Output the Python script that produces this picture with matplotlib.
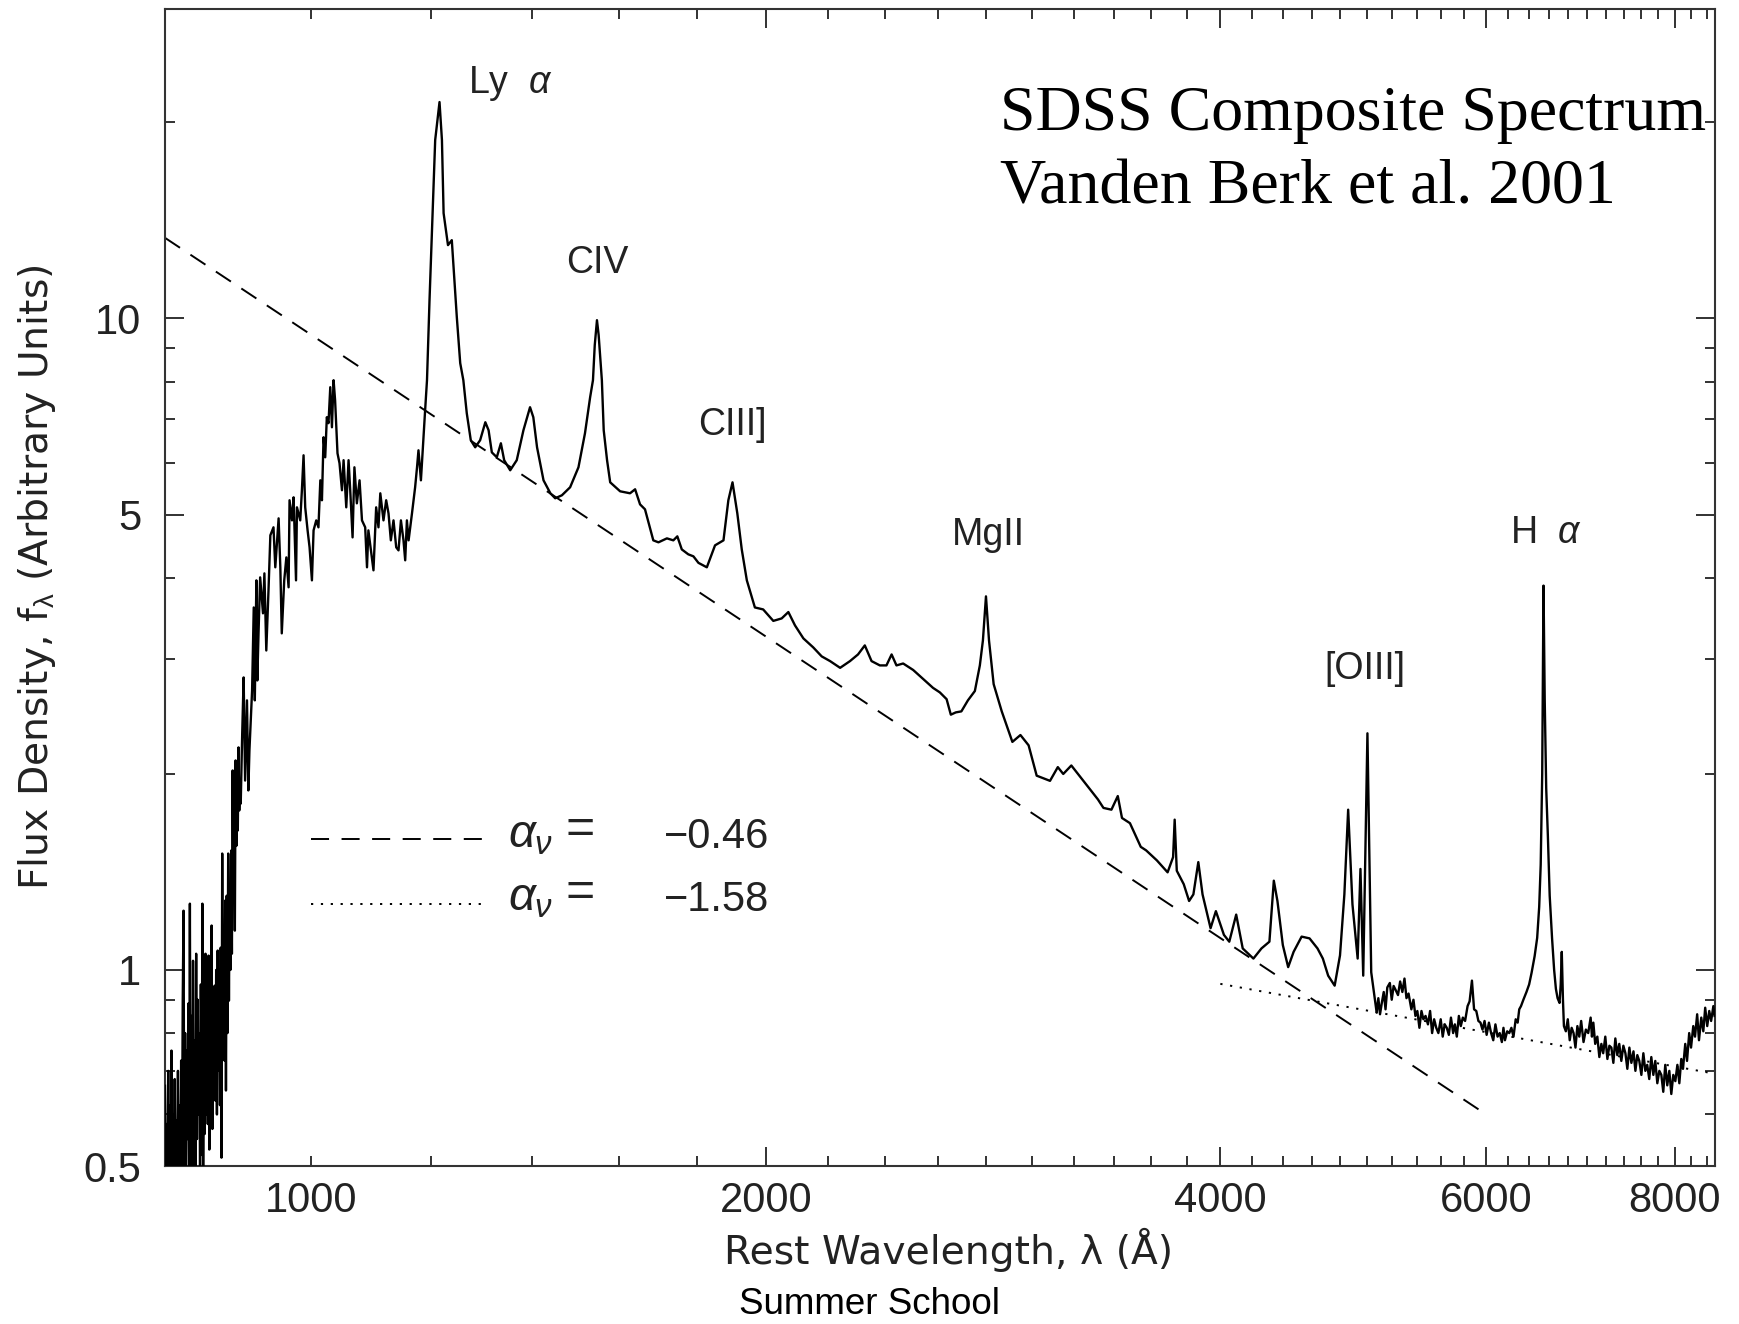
import numpy as np
import matplotlib
matplotlib.use("Agg")
import matplotlib.pyplot as plt
from matplotlib.ticker import NullFormatter, FuncFormatter

plt.rcParams["font.family"] = ["Liberation Sans", "DejaVu Sans"]
plt.rcParams["mathtext.fontset"] = "custom"
plt.rcParams["mathtext.rm"] = "Liberation Sans"
plt.rcParams["mathtext.it"] = "Liberation Sans:italic"
plt.rcParams["lines.scale_dashes"] = False

# ---------------------------------------------------------------------------
# Data (rest wavelength in A, f_lambda)
# ---------------------------------------------------------------------------
# Lyman forest, noisy part below 900 A
lyb_wave = [
    800, 801, 802, 803, 804, 805, 806, 807, 808, 809,
    810, 811, 812, 813, 814, 815, 816, 817, 818, 819,
    820, 821, 822, 823, 824, 825, 826, 827, 828, 829,
    830, 831, 832, 833, 834, 835, 836, 837, 838, 839,
    840, 841, 842, 843, 844, 845, 846, 847, 848, 849,
    850, 851, 852, 853, 854, 855, 856, 857, 858, 859,
    860, 861, 862, 863, 864, 865, 866, 867, 868, 869,
    870, 871, 872, 873, 874, 875, 876, 877, 878, 879,
    880, 881, 882, 883, 884, 885, 886, 887, 888, 889,
    890, 891, 892, 893, 894, 895, 896, 897, 898, 899,
    900,
]
lyb_flux = [
    0.664, 0.46, 0.58, 0.46, 0.70, 0.46, 0.62, 0.47, 0.752, 0.46,
    0.60, 0.47, 0.68, 0.46, 0.587, 0.48, 0.70, 0.47, 0.62, 0.46,
    0.726, 0.50, 0.90, 1.233, 0.47, 0.80, 0.46, 0.752, 0.55, 0.888,
    0.46, 1.264, 0.49, 0.85, 0.47, 1.033, 0.50, 0.78, 0.47, 1.059,
    0.55, 0.90, 0.60, 0.798, 0.48, 0.95, 0.52, 1.264, 0.50, 0.88,
    0.56, 1.059, 0.60, 0.92, 0.58, 1.052, 0.53, 0.98, 0.62, 1.170,
    0.57, 0.90, 0.66, 0.946, 0.63, 1.00, 0.60, 1.071, 0.70, 1.00,
    0.62, 1.082, 0.515, 1.509, 0.80, 1.15, 0.726, 1.278, 0.653, 1.30,
    0.80, 1.509, 0.897, 1.35, 1.00, 1.525, 1.059, 2.024, 1.30, 1.70,
    1.149, 2.097, 1.55, 1.90, 1.637, 2.196, 1.757, 1.95, 1.80, 2.024,
    2.30,
]

# Lyman forest above 900 A up to the blue side of Ly alpha
forest_wave = [
    902, 904, 906.6, 908.5, 910, 913.7, 916, 917.5, 919.7,
    921, 922.7, 925, 929, 931, 933.7, 937, 939.5, 944, 946.6,
    951.4, 953.9, 956, 959.6, 962.7, 966, 967.4, 971, 973.4, 977,
    978.4, 983.3, 985.8, 988.3, 990.8, 994.4, 997.4, 1001, 1003.5, 1007.6,
    1011, 1013.9, 1016.4, 1018.9, 1021.5, 1024, 1026.6, 1029.4, 1032, 1034.6,
    1037, 1040.8, 1044, 1047.9, 1050.5, 1054.8, 1058.5, 1061.2, 1065, 1068,
    1072, 1076.4, 1080.4, 1085.7, 1088.7, 1091, 1095.2, 1099.5, 1104, 1107.9,
    1111, 1116.4, 1121, 1125, 1129, 1133.6, 1138.3, 1142.3, 1146.5, 1151,
    1154, 1157, 1160, 1166, 1171.6, 1175, 1177.6, 1182, 1185.5, 1189.6,
    1193,
]
forest_flux = [
    2.812, 1.953, 2.593, 1.886, 2.172, 2.686, 3.601, 2.593, 3.963,
    2.782, 3.286, 4.005, 3.527, 4.062, 3.093, 3.867, 4.647, 4.780, 4.150,
    4.934, 4.150, 3.286, 3.963, 4.298, 3.867, 5.26, 4.899, 5.315, 3.963,
    5.13, 4.899, 5.449, 6.166, 5.13, 4.729, 4.454, 3.963, 4.729, 4.899,
    4.78, 5.644, 5.26, 6.572, 6.123, 7.054, 6.907, 7.844, 6.808, 8.04,
    7.489, 6.209, 5.996, 5.449, 6.06, 5.13, 6.06, 5.449, 4.613, 5.91,
    5.203, 5.644, 4.899, 4.78, 4.15, 4.729, 4.406, 4.106, 5.13, 4.78,
    5.391, 4.899, 5.26, 5.022, 4.565, 4.899, 4.454, 4.406, 4.899, 4.565,
    4.254, 4.899, 4.565, 5.022, 5.507, 5.91, 6.276, 5.644, 6.343, 7.231,
    8.04,
]

uv_wave = [
    1197.6, 1202, 1208, 1216, 1220.5, 1223.6, 1231.8, 1239, 1242.3, 1248.5,
    1255, 1261, 1267.6, 1275.4, 1284, 1293.7, 1304, 1310.5, 1317, 1327,
    1335.3, 1342, 1354.4, 1368, 1382, 1396, 1403, 1411, 1425, 1440,
    1450.6, 1465.5, 1484, 1503, 1518, 1530, 1536.6, 1540.8, 1546, 1550,
    1557.6, 1562, 1570, 1577.5, 1601.6, 1626, 1638.6, 1651, 1663.5, 1684.7,
    1698, 1720, 1737, 1747.6, 1759.5, 1777, 1791, 1804.7, 1828, 1851,
    1875, 1889, 1901, 1915, 1928, 1943, 1967, 1992,
]
uv_flux = [
    10.67, 13.52, 18.79, 21.49, 18.79, 14.51, 12.96, 13.19, 11.99, 10.05,
    8.54, 8.04, 7.155, 6.503, 6.343, 6.503, 6.93, 6.736, 6.23, 6.123,
    6.433, 6.06, 5.848, 6.06, 6.736, 7.308, 7.054, 6.343, 5.644, 5.391,
    5.297, 5.353, 5.507, 5.91, 6.665, 7.571, 8.04, 9.10, 9.94, 9.43,
    8.04, 6.736, 6.06, 5.604, 5.429, 5.391, 5.468, 5.184, 5.094, 4.565,
    4.533, 4.597, 4.565, 4.63, 4.421, 4.345, 4.314, 4.216, 4.15, 4.485,
    4.565, 5.26, 5.604, 5.022, 4.421, 3.963, 3.601, 3.576,
]

mid_wave = [
    2023, 2049, 2070, 2091, 2118, 2150, 2178, 2206, 2240, 2274,
    2302, 2326, 2350, 2380, 2404, 2423, 2441, 2466, 2504, 2542,
    2581, 2608, 2635, 2652, 2672, 2695, 2722, 2751, 2772, 2785,
    2798, 2811, 2831, 2866, 2913, 2949, 2986, 3023, 3085, 3122,
    3148, 3187, 3266, 3319, 3347, 3388, 3421, 3443, 3485, 3543,
    3572, 3631, 3691, 3722, 3731, 3743, 3783, 3814, 3839, 3868,
    3893, 3941, 3973, 4022, 4055, 4098, 4139, 4207, 4259, 4311,
    4340, 4364, 4400, 4436, 4473, 4528, 4583, 4639, 4677, 4715,
    4762, 4801, 4833, 4861, 4893, 4932, 4953, 4974, 5006, 5035,
]
mid_flux = [
    3.434, 3.464, 3.543, 3.380, 3.228, 3.127, 3.029, 2.979, 2.909, 2.979,
    3.05, 3.149, 2.979, 2.934, 2.934, 3.05, 2.934, 2.954, 2.887, 2.797,
    2.71, 2.667, 2.604, 2.465, 2.485, 2.494, 2.593, 2.68, 2.934, 3.205,
    3.745, 3.205, 2.746, 2.495, 2.239, 2.294, 2.212, 1.987, 1.951, 2.048,
    1.999, 2.06, 1.916, 1.827, 1.773, 1.762, 1.849, 1.711, 1.680, 1.545,
    1.526, 1.473, 1.412, 1.49, 1.701, 1.420, 1.354, 1.276, 1.306, 1.464,
    1.306, 1.159, 1.231, 1.132, 1.105, 1.216, 1.079, 1.041, 1.079, 1.105,
    1.371, 1.276, 1.092, 1.010, 1.066, 1.125, 1.118, 1.079, 1.041, 0.980,
    0.946, 1.053, 1.306, 1.762, 1.261, 1.041, 1.429, 0.980, 2.308, 0.992,
]

red_wave = [
    5077, 5090, 5103, 5117, 5132, 5146, 5160, 5180, 5195, 5210,
    5228, 5245, 5262, 5280, 5297, 5313, 5330, 5353, 5370, 5386,
    5402, 5419, 5436, 5452, 5470, 5490, 5508, 5525, 5542, 5560,
    5578, 5598, 5615, 5632, 5650, 5668, 5686, 5705, 5720, 5737,
    5755, 5772, 5790, 5810, 5832, 5850, 5871, 5890, 5910, 5929,
    5948, 5966, 5985, 6004, 6025, 6045, 6065, 6085, 6105, 6125,
    6145, 6160, 6174, 6195, 6215, 6235, 6255, 6276, 6295, 6310,
    6327, 6350, 6380, 6406, 6430, 6460, 6485, 6505, 6520, 6535,
    6548, 6560, 6575, 6592, 6610, 6634, 6655, 6673, 6690, 6710,
    6722, 6733, 6745, 6755, 6775, 6795, 6815, 6835, 6855, 6875,
    6895, 6915, 6935, 6960, 6985, 7010, 7036, 7050, 7065, 7085,
    7108, 7130, 7152, 7172, 7195, 7218, 7240, 7262, 7284, 7306,
    7328, 7350, 7373, 7396, 7419, 7441, 7464, 7487, 7511, 7533,
    7555, 7578, 7602, 7625, 7648, 7670, 7694, 7718, 7742, 7765,
    7789, 7813, 7837, 7860, 7884, 7908, 7933, 7957, 7981, 8006,
    8031, 8055, 8079, 8100, 8128, 8150, 8177, 8200, 8228, 8250,
    8277, 8300, 8329, 8355, 8379, 8405, 8431, 8455, 8484, 8500,
]
red_flux = [
    0.860, 0.905, 0.855, 0.890, 0.925, 0.870, 0.940, 0.955, 0.900, 0.945,
    0.930, 0.915, 0.960, 0.925, 0.970, 0.905, 0.920, 0.870, 0.900, 0.850,
    0.865, 0.815, 0.865, 0.840, 0.850, 0.825, 0.865, 0.800, 0.840, 0.815,
    0.800, 0.840, 0.790, 0.825, 0.815, 0.795, 0.845, 0.800, 0.825, 0.790,
    0.850, 0.820, 0.845, 0.835, 0.880, 0.895, 0.963, 0.870, 0.865, 0.835,
    0.830, 0.810, 0.835, 0.795, 0.830, 0.800, 0.780, 0.825, 0.790, 0.800,
    0.775, 0.815, 0.780, 0.805, 0.800, 0.815, 0.790, 0.840, 0.830, 0.870,
    0.880, 0.900, 0.925, 0.950, 0.990, 1.05, 1.12, 1.25, 1.45, 2.00,
    3.89, 2.60, 1.90, 1.60, 1.30, 1.118, 1.00, 0.935, 0.905, 0.890,
    0.950, 1.066, 0.900, 0.820, 0.805, 0.840, 0.780, 0.815, 0.800, 0.760,
    0.820, 0.790, 0.835, 0.775, 0.810, 0.800, 0.845, 0.790, 0.830, 0.770,
    0.790, 0.735, 0.770, 0.745, 0.790, 0.730, 0.765, 0.760, 0.720, 0.785,
    0.740, 0.770, 0.725, 0.765, 0.745, 0.705, 0.760, 0.720, 0.750, 0.700,
    0.740, 0.725, 0.690, 0.745, 0.700, 0.715, 0.680, 0.735, 0.690, 0.725,
    0.670, 0.700, 0.690, 0.650, 0.715, 0.665, 0.700, 0.645, 0.690, 0.675,
    0.715, 0.670, 0.730, 0.705, 0.770, 0.725, 0.800, 0.760, 0.820, 0.790,
    0.855, 0.780, 0.845, 0.805, 0.875, 0.820, 0.865, 0.835, 0.880, 0.850,
]

# power-law continuum fits (end points)
alpha_nu = [-0.46, -1.58]
blue_cont_wave = [800, 6000]
blue_cont_flux = [13.3, 0.60]
red_cont_wave = [4000, 8500]
red_cont_flux = [0.952, 0.693]

wave = np.concatenate([lyb_wave, forest_wave, uv_wave, mid_wave, red_wave])
flux = np.concatenate([lyb_flux, forest_flux, uv_flux, mid_flux, red_flux])

# emission line labels: text, wavelength, flux, alignment
line_labels = [
    ("Ly  $\\alpha$", 1270, 22.2, "left"),
    ("CIV", 1546, 11.74, "center"),
    ("CIII]", 1805, 6.62, "left"),
    ("MgII", 2655, 4.485, "left"),
    ("[OIII]", 4690, 2.80, "left"),
    ("H  $\\alpha$", 6225, 4.53, "left"),
]

# ---------------------------------------------------------------------------
# Figure
# ---------------------------------------------------------------------------
fig = plt.figure(figsize=(17.4, 13.24), dpi=100)
fig.patch.set_facecolor("white")
ax = fig.add_axes([0.0948, 0.1193, 0.8906, 0.8742])
ax.set_xscale("log")
ax.set_yscale("log")

ax.plot(wave, flux, color="black", linewidth=1.7, zorder=3)
dash_style = dict(color="black", linewidth=1.4, linestyle=(0, (13, 9)))
dot_style = dict(color="black", linewidth=1.4, linestyle=(0, (1.6, 5.5)))
ax.plot(blue_cont_wave, blue_cont_flux, zorder=2, **dash_style)
ax.plot(red_cont_wave, red_cont_flux, zorder=2, **dot_style)

ax.set_xlim(800, 8500)
ax.set_ylim(0.5, 29.9)

# -- ticks -------------------------------------------------------------------
ax.set_xticks([2000, 4000, 6000, 8000], labels=["2000", "4000", "6000", "8000"])
ax.set_xticks([w for w in range(1000, 8500, 200) if w % 2000 != 0], minor=True)
ax.xaxis.set_minor_formatter(FuncFormatter(lambda v, p: "1000" if abs(v - 1000) < 1 else ""))
ax.set_yticks([0.5, 1, 5, 10], labels=["0.5", "1", "5", "10"])
ax.set_yticks([0.6, 0.7, 0.8, 0.9, 2, 3, 4, 6, 7, 8, 9, 20], minor=True)
ax.yaxis.set_minor_formatter(NullFormatter())

ax.tick_params(which="both", direction="in", top=True, right=True,
               width=1.3, color="#222222", labelsize=30, labelcolor="#222222")
ax.tick_params(which="major", length=14)
ax.tick_params(which="minor", length=7.5)
ax.tick_params(axis="x", which="both", pad=11)
ax.tick_params(axis="y", which="both", pad=17)
for s in ax.spines.values():
    s.set_linewidth(1.5)
    s.set_color("#333333")

# -- axis labels -------------------------------------------------------------
fig.text(949 / 1740, 1 - 1250 / 1324, "Rest Wavelength, \u03bb (\u00c5)",
         ha="center", va="center", fontsize=28.3, family="DejaVu Sans",
         color="#222222")
fig.text(37 / 1740, 1 - 577 / 1324,
         "Flux Density, f$_{\\mathrm{\\lambda}}$ (Arbitrary Units)",
         ha="center", va="center", rotation=90, fontsize=28.3,
         family="DejaVu Sans", color="#222222")

# -- line labels -------------------------------------------------------------
for txt, lx, ly, ha in line_labels:
    ax.text(lx, ly, txt, ha=ha, va="baseline", fontsize=27, color="#222222")

# -- continuum key -----------------------------------------------------------
key_rows = [(0.2822, 0.2750, dash_style), (0.2261, 0.2205, dot_style)]
for (line_y, base_y, style), a in zip(key_rows, alpha_nu):
    ax.plot([0.0942, 0.2050], [line_y, line_y], transform=ax.transAxes, **style)
    ax.text(0.2213, base_y, "$\\alpha_\\nu$", transform=ax.transAxes,
            ha="left", va="baseline", fontsize=34, color="#222222")
    ax.text(0.2677, base_y + 0.004, "=", transform=ax.transAxes,
            ha="center", va="baseline", fontsize=36, color="#222222")
    ax.text(0.3217, base_y, f"{a:.2f}".replace("-", "\u2212"),
            transform=ax.transAxes, ha="left", va="baseline", fontsize=30,
            color="#222222")

# -- title block -------------------------------------------------------------
ax.text(0.5388, 0.895, "SDSS Composite Spectrum", transform=ax.transAxes,
        ha="left", va="baseline", fontsize=46, family="Liberation Serif")
ax.text(0.5388, 0.832, "Vanden Berk et al. 2001", transform=ax.transAxes,
        ha="left", va="baseline", fontsize=46, family="Liberation Serif")

fig.text(870 / 1740, 1 - 1304 / 1324, "Summer School", ha="center",
         va="center", fontsize=26.5, family="Liberation Sans")

fig.savefig("out.png", dpi=100, facecolor="white")
